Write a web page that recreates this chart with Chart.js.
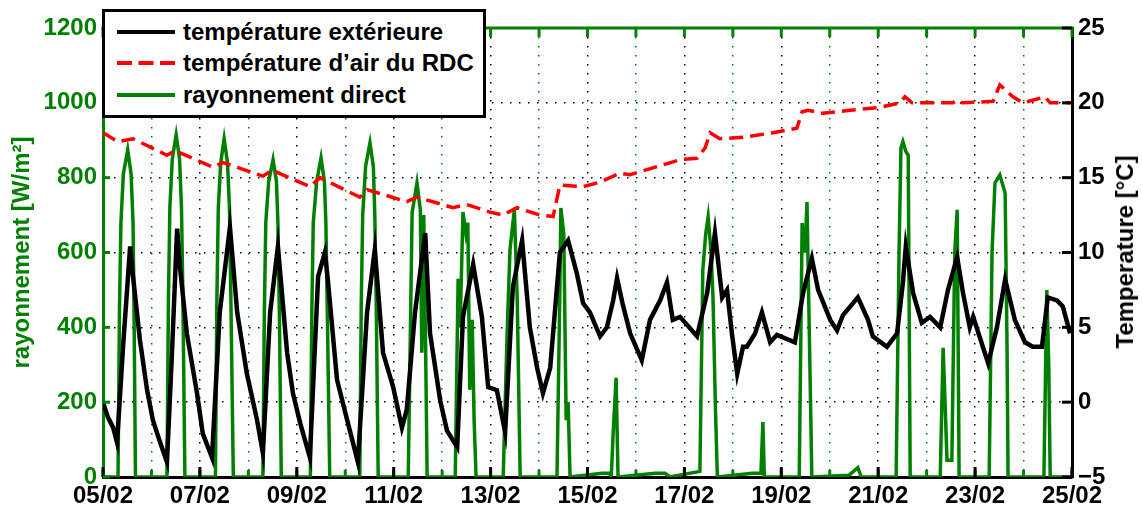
<!DOCTYPE html>
<html lang="fr">
<head>
<meta charset="utf-8">
<title>Températures et rayonnement</title>
<script src="https://cdn.jsdelivr.net/npm/chart.js@4.4.1/dist/chart.umd.min.js"></script>
<style>
  html, body { margin: 0; padding: 0; background: #fff; }
  #wrap { position: relative; width: 1143px; height: 510px; }
  #legend {
    position: absolute; left: 102px; top: 9px; width: 384px; height: 109px;
    box-sizing: border-box; border: 3px solid #000; background: #fff;
    font: bold 24px 'Liberation Sans', Arial, sans-serif; color: #000;
  }
  #legend .row { position: absolute; left: 0; height: 32px; display: flex; align-items: center; white-space: nowrap; }
  #legend svg { margin-left: 12px; margin-right: 8px; }
  #rtitle {
    position: absolute; left: 1125px; top: 252px; white-space: nowrap;
    transform: translate(-50%, -50%) rotate(-90deg);
    font: bold 24px 'Liberation Sans', Arial, sans-serif; color: #000;
  }
</style>
</head>
<body>
<div id="wrap">
  <canvas id="chart" width="1143" height="510"></canvas>
  <div id="legend"></div>
  <div id="rtitle">Temperature [°C]</div>
</div>
<script>
// jours depuis le 05/02 00:00
const tickLabelsX = ['05/02', '07/02', '09/02', '11/02', '13/02', '15/02', '17/02', '19/02', '21/02', '23/02', '25/02'];
const tickLabelsLeft = ['0', '200', '400', '600', '800', '1000', '1200'];
const tickLabelsRight = ['\u22125', '0', '5', '10', '15', '20', '25'];
const seriesNames = ['température extérieure', 'température d\u2019air du RDC', 'rayonnement direct'];

// température extérieure [°C]
const extDays = [0.00, 0.10, 0.21, 0.29, 0.42, 0.56, 0.62, 0.76, 0.91, 1.03,
  1.18, 1.32, 1.42, 1.53, 1.59, 1.73, 1.94, 2.06, 2.25, 2.41,
  2.62, 2.77, 2.97, 3.18, 3.30, 3.45, 3.61, 3.80, 3.92, 4.07,
  4.27, 4.44, 4.58, 4.64, 4.83, 5.04, 5.26, 5.45, 5.61, 5.78,
  5.99, 6.17, 6.27, 6.44, 6.65, 6.75, 6.96, 7.10, 7.31, 7.43,
  7.64, 7.82, 7.95, 8.13, 8.30, 8.46, 8.65, 8.81, 8.96, 9.08,
  9.23, 9.43, 9.60, 9.78, 9.91, 10.05, 10.26, 10.40, 10.53, 10.61,
  10.73, 10.88, 11.12, 11.29, 11.50, 11.64, 11.76, 11.91, 12.26, 12.47,
  12.63, 12.78, 12.88, 12.98, 13.09, 13.21, 13.29, 13.46, 13.60, 13.77,
  13.91, 14.28, 14.45, 14.63, 14.76, 15.01, 15.15, 15.27, 15.58, 15.79,
  15.89, 16.18, 16.39, 16.51, 16.57, 16.72, 16.90, 17.07, 17.28, 17.44,
  17.63, 17.75, 17.89, 17.96, 18.27, 18.45, 18.62, 18.82, 19.03, 19.19,
  19.38, 19.50, 19.69, 19.81, 19.96];
const extTemp = [0.0, -1.0, -1.7, -2.7, 4.0, 10.4, 8.4, 4.2, 0.8, -1.2,
  -2.7, -4.0, 3.0, 11.6, 9.0, 4.6, 0.6, -2.1, -3.7, 6.0,
  11.7, 6.0, 1.9, -1.2, -3.4, 6.0, 10.4, 3.3, 0.6, -1.4,
  -3.7, 8.4, 10.0, 8.2, 1.5, -1.2, -4.0, 6.0, 10.2, 3.3,
  1.0, -1.7, -0.5, 6.0, 11.3, 4.6, 0.1, -1.9, -3.0, 5.7,
  9.2, 5.7, 1.0, 0.8, -2.0, 7.7, 10.8, 5.0, 2.3, 0.6,
  2.3, 10.0, 10.8, 8.6, 6.6, 6.0, 4.4, 5.0, 6.8, 8.3,
  6.5, 4.6, 2.8, 5.5, 6.8, 8.0, 5.5, 5.7, 4.4, 7.3,
  11.3, 7.0, 7.5, 4.6, 1.9, 3.7, 3.7, 4.6, 6.0, 4.0,
  4.5, 4.0, 7.3, 9.6, 7.5, 5.5, 4.8, 5.8, 7.0, 5.5,
  4.4, 3.7, 4.6, 8.0, 10.4, 7.3, 5.3, 5.7, 5.0, 7.5,
  9.7, 7.3, 5.0, 5.7, 2.6, 5.0, 8.2, 5.5, 4.0, 3.7,
  3.7, 7.0, 6.8, 6.4, 4.6];

// température d'air du RDC [°C]
const rdcDays = [0.00, 0.31, 0.62, 1.32, 1.49, 2.27, 2.48, 3.30, 3.49, 4.27,
  4.48, 5.30, 5.45, 6.27, 6.48, 7.22, 7.51, 7.99, 8.26, 8.54,
  9.02, 9.29, 9.43, 9.91, 10.26, 10.67, 10.88, 11.50, 11.91, 12.26,
  12.43, 12.53, 12.73, 13.21, 13.83, 14.32, 14.43, 14.55, 14.86, 15.42,
  16.04, 16.45, 16.55, 16.70, 17.54, 17.63, 17.73, 18.37, 18.51, 18.78,
  18.99, 19.44, 19.55, 20.00];
const rdcTemp = [18.0, 17.4, 17.6, 16.5, 16.8, 15.7, 16.0, 15.1, 15.5, 14.4,
  15.0, 13.7, 14.2, 13.4, 13.7, 13.0, 13.2, 12.7, 12.5, 13.0,
  12.5, 12.4, 14.5, 14.4, 14.7, 15.3, 15.2, 15.8, 16.2, 16.3,
  17.0, 18.0, 17.6, 17.7, 18.0, 18.3, 19.4, 19.5, 19.3, 19.5,
  19.7, 20.0, 20.4, 20.0, 20.0, 20.2, 20.0, 20.1, 21.2, 20.4,
  20.0, 20.4, 20.0, 20.0];

// rayonnement direct [W/m²]
const radDays = [0.00,
  0.31, 0.34, 0.37, 0.42, 0.51, 0.58, 0.62, 0.64, 0.67,
  1.32, 1.35, 1.38, 1.43, 1.51, 1.58, 1.62, 1.65, 1.69,
  2.32, 2.35, 2.38, 2.43, 2.50, 2.57, 2.61, 2.64, 2.69,
  3.30, 3.33, 3.36, 3.42, 3.51, 3.58, 3.61, 3.64, 3.68,
  4.28, 4.31, 4.34, 4.41, 4.50, 4.57, 4.60, 4.63, 4.68,
  5.30, 5.33, 5.36, 5.42, 5.51, 5.58, 5.61, 5.64, 5.68,
  6.30, 6.38, 6.48, 6.55, 6.58, 6.62, 6.66, 6.69,
  7.27, 7.33, 7.37, 7.43, 7.49, 7.53, 7.57, 7.62, 7.66, 7.70,
  8.26, 8.34, 8.40, 8.49, 8.55, 8.61,
  9.37, 9.43, 9.45, 9.51, 9.56, 9.60, 9.64,
  10.30, 10.45, 10.49, 10.53, 10.59, 10.63,
  11.40, 11.60, 11.70,
  12.32, 12.38, 12.44, 12.49, 12.55, 12.59, 12.64, 12.68,
  13.40, 13.58, 13.62, 13.65,
  14.37, 14.43, 14.49, 14.53, 14.59, 14.63,
  15.40, 15.58, 15.65,
  16.37, 16.43, 16.47, 16.51, 16.57, 16.62, 16.66,
  17.28, 17.34, 17.38, 17.42, 17.52, 17.58, 17.63, 17.67,
  18.29, 18.35, 18.41, 18.51, 18.62, 18.66, 18.68,
  19.42, 19.48, 19.52, 19.55,
  20.00];
const radValues = [0,
  0, 450, 680, 810, 874, 810, 680, 450, 0,
  0, 470, 720, 850, 914, 850, 720, 470, 0,
  0, 470, 720, 840, 904, 840, 720, 470, 0,
  0, 440, 680, 790, 848, 790, 680, 440, 0,
  0, 440, 680, 790, 853, 790, 680, 440, 0,
  0, 460, 700, 830, 893, 830, 700, 460, 0,
  0, 706, 786, 714, 332, 700, 332, 0,
  0, 530, 400, 708, 650, 680, 233, 420, 150, 0,
  0, 380, 607, 714, 473, 0,
  0, 500, 719, 650, 152, 200, 0,
  10, 10, 0, 118, 265, 0,
  10, 10, 0,
  15, 553, 650, 695, 600, 481, 187, 0,
  10, 10, 147, 0,
  0, 679, 600, 735, 300, 0,
  5, 25, 0,
  0, 600, 880, 896, 870, 860, 0,
  0, 345, 198, 45, 45, 600, 714, 0,
  0, 602, 786, 807, 759, 340, 0,
  0, 500, 300, 0,
  0];

const green = '#008000';
const fontFamily = "'Liberation Sans', Arial, sans-serif";
const toPoints = (xs, ys) => xs.map((d, i) => ({ x: d, y: ys[i] }));

// petites graduations vers l'intérieur + bord supérieur vert
const innerTicks = {
  id: 'innerTicks',
  afterDraw(chart) {
    const { ctx, chartArea: a, scales: { x, y, y1 } } = chart;
    ctx.save();
    ctx.lineWidth = 3;
    ctx.strokeStyle = green;
    ctx.beginPath();
    ctx.moveTo(a.left - 1.5, a.top);
    ctx.lineTo(a.right + 1.5, a.top);
    ctx.stroke();
    x.ticks.forEach(t => {
      const px = x.getPixelForValue(t.value);
      ctx.strokeStyle = green;
      ctx.beginPath();
      ctx.moveTo(px, a.top);
      ctx.lineTo(px, a.top + 9);
      ctx.moveTo(px, a.bottom);
      ctx.lineTo(px, a.bottom - 7);
      ctx.stroke();
      if (t.value % 2 === 0) {
        ctx.strokeStyle = '#000';
        ctx.beginPath();
        ctx.moveTo(px, a.bottom);
        ctx.lineTo(px, a.bottom - 10);
        ctx.stroke();
      }
    });
    ctx.strokeStyle = green;
    y.ticks.forEach(t => {
      const py = y.getPixelForValue(t.value);
      ctx.beginPath();
      ctx.moveTo(a.left, py);
      ctx.lineTo(a.left + 7, py);
      ctx.stroke();
    });
    ctx.strokeStyle = '#000';
    y1.ticks.forEach(t => {
      const py = y1.getPixelForValue(t.value);
      ctx.beginPath();
      ctx.moveTo(a.right, py);
      ctx.lineTo(a.right - 10, py);
      ctx.stroke();
    });
    ctx.restore();
  }
};

const chart = new Chart(document.getElementById('chart'), {
  type: 'line',
  data: {
    datasets: [
      {
        label: seriesNames[1],
        data: toPoints(rdcDays, rdcTemp),
        yAxisID: 'y1',
        borderColor: '#ff0000',
        borderWidth: 3.5,
        borderDash: [14, 7],
        pointRadius: 0,
        tension: 0,
      },
      {
        label: seriesNames[0],
        data: toPoints(extDays, extTemp),
        yAxisID: 'y1',
        borderColor: '#000000',
        borderWidth: 4.5,
        pointRadius: 0,
        tension: 0,
      },
      {
        label: seriesNames[2],
        data: toPoints(radDays, radValues),
        yAxisID: 'y',
        borderColor: green,
        borderWidth: 3.5,
        pointRadius: 0,
        tension: 0,
      },
    ],
  },
  options: {
    responsive: false,
    animation: false,
    layout: { padding: { top: 28, left: 0, right: 0, bottom: 0 } },
    plugins: { legend: { display: false }, tooltip: { enabled: false } },
    scales: {
      x: {
        type: 'linear',
        min: 0,
        max: 20,
        afterFit: s => { s.height = 33; },
        ticks: {
          stepSize: 1,
          autoSkip: false,
          maxRotation: 0,
          padding: 5,
          color: '#000',
          font: { family: fontFamily, size: 24, weight: 'bold' },
          callback: v => (v % 2 === 0 ? tickLabelsX[v / 2] : ''),
        },
        grid: {
          color: c => (c.tick && c.tick.value % 2 === 0 ? '#000' : green),
          lineWidth: 1.5,
          drawTicks: false,
        },
        border: { color: '#000', width: 3, dash: [1.5, 7.5] },
      },
      y: {
        position: 'left',
        min: 0,
        max: 1200,
        afterFit: s => { s.width = 103; },
        ticks: {
          stepSize: 200,
          padding: 6,
          color: green,
          font: { family: fontFamily, size: 24, weight: 'bold' },
          callback: v => tickLabelsLeft[v / 200],
        },
        title: {
          display: true,
          text: 'rayonnement [W/m²]',
          color: green,
          font: { family: fontFamily, size: 24, weight: 'bold' },
          padding: { top: 8, bottom: 0 },
        },
        grid: { color: '#000', lineWidth: 1.5, drawTicks: false },
        border: { color: green, width: 3, dash: [1.5, 7.5] },
      },
      y1: {
        position: 'right',
        min: -5,
        max: 25,
        afterFit: s => { s.width = 71; },
        ticks: {
          stepSize: 5,
          padding: 6,
          color: '#000',
          font: { family: fontFamily, size: 24, weight: 'bold' },
          callback: v => tickLabelsRight[(v + 5) / 5],
        },
        grid: { drawOnChartArea: false, drawTicks: false },
        border: { color: '#000', width: 3 },
      },
    },
  },
  plugins: [innerTicks],
});

// légende encadrée en haut à gauche
const legendStyles = [
  { color: '#000000', dash: '' },
  { color: '#ff0000', dash: '15 6.5' },
  { color: green, dash: '' },
];
const legendEl = document.getElementById('legend');
const rowCenters = [20, 51, 83];
seriesNames.forEach((name, i) => {
  const row = document.createElement('div');
  row.className = 'row';
  row.style.top = (rowCenters[i] - 16) + 'px';
  const st = legendStyles[i];
  row.innerHTML = '<svg width="58" height="8"><line x1="0" y1="4" x2="58" y2="4" stroke="' + st.color +
    '" stroke-width="4"' + (st.dash ? ' stroke-dasharray="' + st.dash + '"' : '') + '/></svg><span>' + name + '</span>';
  legendEl.appendChild(row);
});
</script>
</body>
</html>
